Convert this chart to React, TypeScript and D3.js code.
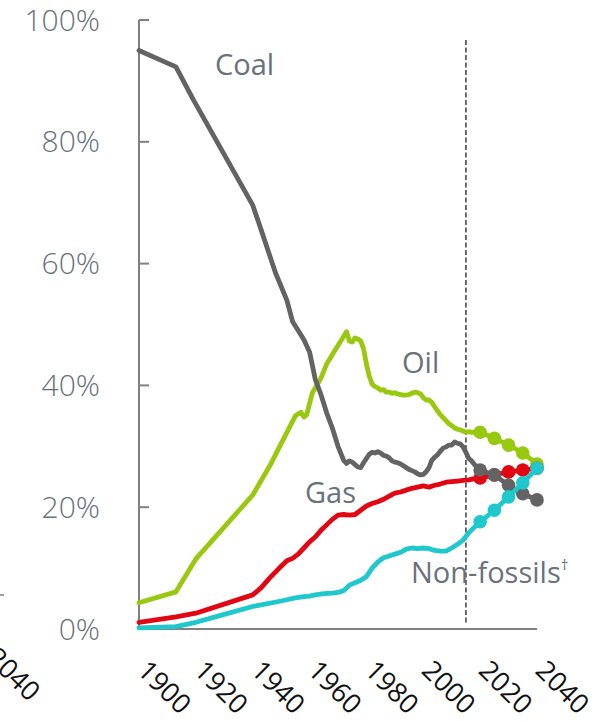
import React from "react";
import * as d3 from "d3";

// Share of world primary energy by source, 1900–2040 (percent)
const coalYears = [1900, 1913, 1919, 1940, 1943, 1948, 1952, 1954, 1956, 1958, 1960, 1962, 1964, 1966, 1968, 1970, 1972, 1973, 1974, 1975, 1976, 1977, 1978, 1979, 1980, 1981, 1982, 1983, 1984, 1985, 1986, 1987, 1988, 1989, 1990, 1991, 1992, 1993, 1994, 1995, 1996, 1997, 1998, 1999, 2000, 2001, 2002, 2003, 2004, 2005, 2006, 2007, 2008, 2009, 2010, 2011, 2012, 2013, 2014, 2015, 2016, 2017, 2018, 2019, 2020];
const coalShare = [95, 92.3, 87, 69.6, 65.5, 58.5, 54, 50.5, 49, 47.5, 45.5, 41, 38.5, 35.5, 33, 30, 27.7, 27.2, 27.6, 27.4, 27, 26.6, 26.5, 27.3, 28, 28.7, 29, 28.9, 29.1, 28.9, 28.5, 28.4, 28.1, 27.6, 27.4, 27.3, 27.1, 26.8, 26.5, 26.2, 26, 25.8, 25.5, 25.3, 25.4, 25.8, 26.5, 27.7, 28.2, 28.6, 29.2, 29.7, 29.9, 30.2, 30.2, 30.7, 30.5, 30.4, 29.9, 29, 28, 27.6, 27, 26.6, 26.1];

const oilYears = [1900, 1913, 1920, 1940, 1946, 1955, 1957, 1958, 1959, 1961, 1964, 1966, 1969, 1971, 1973, 1974, 1975, 1976, 1977, 1978, 1979, 1980, 1981, 1982, 1983, 1984, 1985, 1986, 1987, 1988, 1989, 1990, 1991, 1992, 1993, 1994, 1995, 1996, 1997, 1998, 1999, 2000, 2001, 2002, 2003, 2004, 2005, 2006, 2007, 2008, 2009, 2010, 2011, 2012, 2013, 2014, 2015, 2016, 2017, 2018, 2019, 2020];
const oilShare = [4.3, 6.1, 11.5, 22, 26.8, 35, 35.6, 34.8, 35.2, 38.8, 41.2, 43.5, 45.8, 47.3, 48.8, 47.3, 47.1, 47.8, 47.6, 47.3, 46, 43.5, 41.5, 40.2, 39.8, 39.6, 39.2, 39.3, 38.9, 38.9, 38.7, 38.8, 38.6, 38.5, 38.4, 38.4, 38.5, 38.7, 38.9, 38.8, 38.6, 38, 37.6, 37.6, 37.2, 36.5, 35.8, 35.2, 34.7, 34.2, 33.7, 33.4, 33, 32.8, 32.7, 32.5, 32.3, 32.4, 32.3, 32.3, 32.3, 32.3];

const gasYears = [1900, 1913, 1920, 1940, 1943, 1946, 1950, 1952, 1954, 1956, 1958, 1960, 1962, 1964, 1966, 1968, 1970, 1972, 1974, 1976, 1978, 1980, 1982, 1984, 1986, 1988, 1990, 1992, 1994, 1996, 1998, 2000, 2002, 2004, 2006, 2008, 2010, 2012, 2014, 2016, 2018, 2020];
const gasShare = [1.1, 2.0, 2.6, 5.6, 6.8, 8.4, 10.3, 11.2, 11.6, 12.3, 13.3, 14.3, 15.1, 16.2, 17.1, 18.0, 18.7, 18.8, 18.7, 18.8, 19.5, 20.2, 20.6, 20.9, 21.3, 21.8, 22.3, 22.5, 22.8, 23.1, 23.3, 23.5, 23.3, 23.6, 23.8, 24.1, 24.2, 24.3, 24.4, 24.5, 24.7, 24.8];

const nonFossilYears = [1900, 1913, 1920, 1930, 1940, 1950, 1955, 1958, 1960, 1962, 1965, 1968, 1970, 1972, 1974, 1976, 1978, 1980, 1982, 1984, 1986, 1988, 1990, 1992, 1994, 1996, 1998, 2000, 2002, 2004, 2006, 2008, 2010, 2012, 2014, 2016, 2018, 2020];
const nonFossilShare = [0.2, 0.4, 1.1, 2.4, 3.7, 4.6, 5.1, 5.3, 5.4, 5.6, 5.8, 5.9, 6.0, 6.3, 7.2, 7.6, 8.0, 8.6, 10.0, 11.0, 11.7, 12.0, 12.3, 12.6, 13.1, 13.3, 13.2, 13.3, 13.2, 12.9, 12.8, 12.8, 13.3, 13.9, 14.6, 15.8, 16.7, 17.6];

// Outlook years, shown as dots
const outlookYears = [2020, 2025, 2030, 2035, 2040];
const coalOutlook = [26.1, 25.3, 23.6, 22.2, 21.2];
const oilOutlook = [32.3, 31.3, 30.2, 28.9, 27.1];
const gasOutlook = [24.8, 25.3, 25.8, 26.1, 26.4];
const nonFossilOutlook = [17.6, 19.5, 21.7, 24.0, 26.4];

const xTicks = [1900, 1920, 1940, 1960, 1980, 2000, 2020, 2040];
const yTicks = [0, 20, 40, 60, 80, 100];
const outlookStart = 2015;

const FONT = "'Open Sans', 'DejaVu Sans', sans-serif";

type Series = {
  name: string;
  color: string;
  years: number[];
  values: number[];
  outlook: number[];
};

const series: Series[] = [
  { name: "Oil", color: "#98c90e", years: oilYears, values: oilShare, outlook: oilOutlook },
  { name: "Gas", color: "#e20613", years: gasYears, values: gasShare, outlook: gasOutlook },
  { name: "Coal", color: "#636363", years: coalYears, values: coalShare, outlook: coalOutlook },
  { name: "Non-fossils", color: "#1ec8cd", years: nonFossilYears, values: nonFossilShare, outlook: nonFossilOutlook },
];

export default function App() {
  const width = 608;
  const height = 721;
  const x = d3.scaleLinear().domain([1900, 2040]).range([139, 537]);
  const y = d3.scaleLinear().domain([0, 100]).range([629, 20]);

  const line = d3
    .line<[number, number]>()
    .x((d) => x(d[0]))
    .y((d) => y(d[1]));

  const axisColor = "#808080";
  const labelColor = "#67727c";

  return (
    <svg
      width={width}
      height={height}
      viewBox={`0 0 ${width} ${height}`}
      style={{ position: "absolute", left: 0, top: 0, background: "#fff" }}
    >
      {/* edge of the neighbouring panel */}
      <line x1={0} x2={4} y1={595} y2={595} stroke={axisColor} strokeWidth={1.5} />
      <text
        transform="translate(-15,659) rotate(45)"
        fontFamily={FONT}
        fontSize={27}
        fill="#111"
      >
        2040
      </text>

      {/* axes */}
      <line x1={x(1900)} x2={x(1900)} y1={y(100)} y2={y(0)} stroke={axisColor} strokeWidth={2} />
      <line x1={x(1900)} x2={x(2040)} y1={y(0)} y2={y(0)} stroke={axisColor} strokeWidth={2} />
      {yTicks.map((t) => (
        <g key={t}>
          <line x1={x(1900)} x2={x(1900) + 10} y1={y(t)} y2={y(t)} stroke={axisColor} strokeWidth={2} />
          <text
            x={100}
            y={y(t)}
            dy="0.35em"
            textAnchor="end"
            fontFamily={FONT}
            fontSize={30}
            fontWeight={300}
            fill={labelColor}
          >
            {`${t}%`}
          </text>
        </g>
      ))}
      {xTicks.map((t) => (
        <text
          key={t}
          transform={`translate(${x(t) - 3},672) rotate(45)`}
          fontFamily={FONT}
          fontSize={27}
          fill="#111"
        >
          {t}
        </text>
      ))}

      {/* start of the outlook period */}
      <line
        x1={x(outlookStart)}
        x2={x(outlookStart)}
        y1={40}
        y2={625}
        stroke="#555"
        strokeWidth={1.7}
        strokeDasharray="5,2.5"
      />

      {/* series */}
      {series.map((s) => {
        const hist: [number, number][] = s.years.map((yr, i) => [yr, s.values[i]]);
        const fut: [number, number][] = outlookYears.map((yr, i) => [yr, s.outlook[i]]);
        return (
          <g key={s.name}>
            <path
              d={line(hist.concat(fut.slice(1))) ?? ""}
              fill="none"
              stroke={s.color}
              strokeWidth={4.8}
              strokeLinejoin="round"
              strokeLinecap="round"
            />
            {fut.map((p) => (
              <circle key={p[0]} cx={x(p[0])} cy={y(p[1])} r={6.8} fill={s.color} />
            ))}
          </g>
        );
      })}

      {/* series labels */}
      <g fontFamily={FONT} fontSize={29} fill={labelColor}>
        <text x={215} y={75}>Coal</text>
        <text x={402} y={373}>Oil</text>
        <text x={305} y={503}>Gas</text>
        <text x={411} y={583}>
          Non-fossils
          <tspan fontSize={15} dy={-13}>†</tspan>
        </text>
      </g>
    </svg>
  );
}
